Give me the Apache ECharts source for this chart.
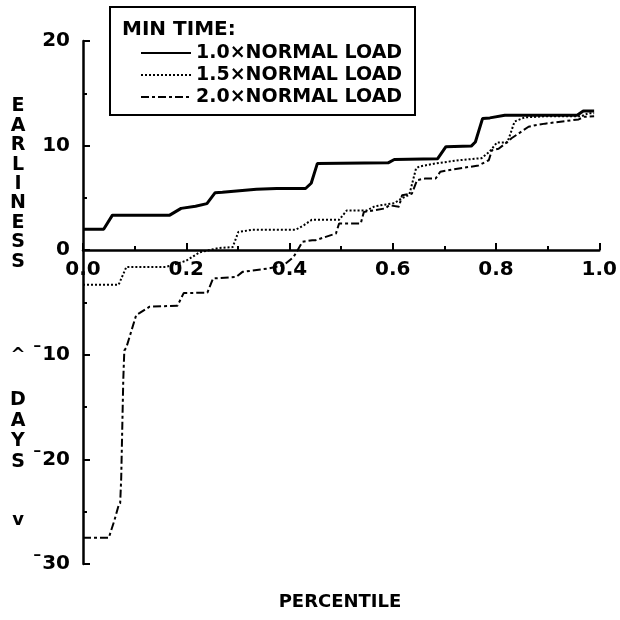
<!DOCTYPE html>
<html>
<head>
<meta charset="utf-8">
<script src="https://cdn.jsdelivr.net/npm/echarts@6/dist/echarts.min.js"></script>
<style>
  html, body { margin: 0; padding: 0; background: #fff; }
  #chart { width: 620px; height: 620px; }
</style>
</head>
<body>
<div id="chart"></div>
<script>
  // percentile (x) / earliness in days (y)
  var load10X = [0.0, 0.04, 0.057, 0.168, 0.19, 0.218, 0.24, 0.256, 0.27, 0.336, 0.375, 0.431, 0.442, 0.454, 0.591, 0.603, 0.687, 0.703, 0.752, 0.76, 0.774, 0.788, 0.817, 0.957, 0.969, 0.99]
  var load10Y = [2.0, 2.0, 3.35, 3.35, 4.0, 4.2, 4.45, 5.5, 5.55, 5.83, 5.9, 5.9, 6.4, 8.3, 8.35, 8.67, 8.75, 9.9, 9.95, 10.35, 12.6, 12.65, 12.9, 12.9, 13.3, 13.3]

  var load15X = [0.0, 0.069, 0.084, 0.16, 0.175, 0.2, 0.226, 0.262, 0.29, 0.301, 0.328, 0.412, 0.428, 0.443, 0.496, 0.511, 0.55, 0.565, 0.603, 0.617, 0.632, 0.645, 0.651, 0.683, 0.728, 0.772, 0.787, 0.802, 0.822, 0.836, 0.856, 0.895, 0.965, 0.979, 0.99]
  var load15Y = [-3.3, -3.3, -1.6, -1.6, -1.4, -1.0, -0.2, 0.2, 0.3, 1.75, 1.95, 1.95, 2.4, 2.9, 2.9, 3.8, 3.8, 4.2, 4.5, 4.95, 5.3, 7.8, 8.0, 8.3, 8.6, 8.8, 9.4, 10.3, 10.3, 12.3, 12.7, 12.8, 12.8, 13.1, 13.1]

  var load20X = [0.0, 0.05, 0.061, 0.069, 0.072, 0.074, 0.078, 0.08, 0.084, 0.103, 0.11, 0.129, 0.183, 0.195, 0.241, 0.252, 0.297, 0.309, 0.359, 0.389, 0.408, 0.425, 0.444, 0.451, 0.49, 0.496, 0.538, 0.544, 0.586, 0.593, 0.612, 0.618, 0.637, 0.647, 0.663, 0.683, 0.692, 0.714, 0.766, 0.786, 0.792, 0.805, 0.818, 0.83, 0.863, 0.876, 0.895, 0.96, 0.97, 0.99]
  var load20Y = [-27.5, -27.5, -25.8, -24.4, -24.2, -21.8, -12.4, -9.6, -9.3, -6.2, -6.0, -5.4, -5.3, -4.1, -4.05, -2.7, -2.55, -2.07, -1.75, -1.43, -0.64, 0.8, 0.96, 0.96, 1.6, 2.55, 2.55, 3.66, 4.0, 4.3, 4.15, 5.26, 5.4, 6.7, 6.85, 6.85, 7.5, 7.7, 8.1, 8.6, 9.56, 9.7, 10.2, 10.7, 11.8, 11.95, 12.1, 12.5, 12.75, 12.8]

  var seriesNames = ['1.0×NORMAL LOAD', '1.5×NORMAL LOAD', '2.0×NORMAL LOAD']

  function pairs (xs, ys) {
    var out = []
    for (var i = 0; i < xs.length; i++) out.push([xs[i], ys[i]])
    return out
  }

  var font = 'DejaVu Sans'
  var myChart = echarts.init(document.getElementById('chart'))
  myChart.setOption({
    animation: false,
    backgroundColor: '#fff',
    grid: { left: 83, right: 19, top: 41, bottom: 56 },
    legend: {
      orient: 'vertical',
      left: 135,
      top: 37,
      itemWidth: 50,
      itemHeight: 14,
      itemGap: 0,
      itemStyle: { color: 'rgba(0,0,0,0)', borderColor: 'rgba(0,0,0,0)', borderWidth: 0, opacity: 0 },
      textStyle: { fontFamily: font, fontWeight: 'bold', fontSize: 19, color: '#000', lineHeight: 22 },
      data: seriesNames
    },
    xAxis: {
      type: 'value',
      min: 0,
      max: 1,
      interval: 0.2,
      offset: -314,
      axisLine: { onZero: false, lineStyle: { color: '#000', width: 2.5 } },
      axisTick: { inside: true, length: 7, lineStyle: { color: '#000', width: 2 } },
      minorTick: { show: true, splitNumber: 2, length: 4, lineStyle: { color: '#000', width: 2 } },
      splitLine: { show: false },
      axisLabel: {
        margin: 10,
        fontFamily: font,
        fontWeight: 'bold',
        fontSize: 20,
        color: '#000',
        formatter: function (v) { return v.toFixed(1) }
      }
    },
    yAxis: {
      type: 'value',
      min: -30,
      max: 20,
      interval: 10,
      axisLine: { lineStyle: { color: '#000', width: 2.5 } },
      axisTick: { inside: true, length: 7, lineStyle: { color: '#000', width: 2 } },
      minorTick: { show: true, splitNumber: 2, length: 4, lineStyle: { color: '#000', width: 2 } },
      splitLine: { show: false },
      axisLabel: {
        margin: 13,
        fontFamily: font,
        fontWeight: 'bold',
        fontSize: 20,
        color: '#000',
        formatter: function (v) { return v < 0 ? '¯' + (-v) : String(v) }
      }
    },
    graphic: [
      {
        type: 'rect',
        shape: { x: 110, y: 7, width: 305, height: 108 },
        style: { fill: 'rgba(0,0,0,0)', stroke: '#000', lineWidth: 2 }
      },
      {
        type: 'text',
        x: 122,
        y: 30,
        style: { text: 'MIN TIME:', font: 'bold 20px ' + font, fill: '#000', verticalAlign: 'middle' }
      },
      {
        type: 'text',
        x: 18,
        y: 184,
        style: {
          text: 'E\nA\nR\nL\nI\nN\nE\nS\nS',
          font: 'bold 19px ' + font,
          lineHeight: 19.4,
          fill: '#000',
          align: 'center',
          verticalAlign: 'middle'
        }
      },
      {
        type: 'text',
        x: 18,
        y: 355,
        style: { text: '^', font: 'bold 18px ' + font, fill: '#000', align: 'center', verticalAlign: 'middle' }
      },
      {
        type: 'text',
        x: 18,
        y: 431,
        style: {
          text: 'D\nA\nY\nS',
          font: 'bold 19px ' + font,
          lineHeight: 20.7,
          fill: '#000',
          align: 'center',
          verticalAlign: 'middle'
        }
      },
      {
        type: 'text',
        x: 18,
        y: 520,
        style: { text: 'v', font: 'bold 18px ' + font, fill: '#000', align: 'center', verticalAlign: 'middle' }
      },
      {
        type: 'text',
        x: 340,
        y: 602,
        style: { text: 'PERCENTILE', font: 'bold 18px ' + font, fill: '#000', align: 'center', verticalAlign: 'middle' }
      }
    ],
    series: [
      {
        name: seriesNames[0],
        type: 'line',
        symbol: 'none',
        data: pairs(load10X, load10Y),
        lineStyle: { color: '#000', width: 3, type: 'solid' },
        itemStyle: { color: '#000' }
      },
      {
        name: seriesNames[1],
        type: 'line',
        symbol: 'none',
        data: pairs(load15X, load15Y),
        lineStyle: { color: '#000', width: 2, type: [2, 2] },
        itemStyle: { color: '#000' }
      },
      {
        name: seriesNames[2],
        type: 'line',
        symbol: 'none',
        data: pairs(load20X, load20Y),
        lineStyle: { color: '#000', width: 2, type: [8, 3, 3, 3] },
        itemStyle: { color: '#000' }
      }
    ]
  })
</script>
</body>
</html>
